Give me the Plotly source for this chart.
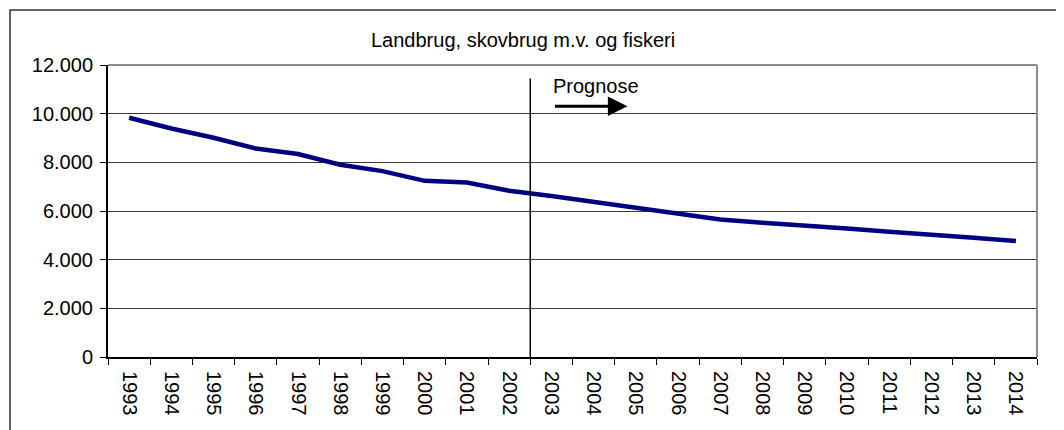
import plotly.graph_objects as go

years = ["1993", "1994", "1995", "1996", "1997", "1998", "1999", "2000", "2001", "2002", "2003",
         "2004", "2005", "2006", "2007", "2008", "2009", "2010", "2011", "2012", "2013", "2014"]
employment = [9830, 9390, 9010, 8565, 8340, 7900, 7640, 7240, 7170, 6830, 6620,
              6380, 6150, 5900, 5655, 5515, 5410, 5285, 5150, 5040, 4900, 4765]
y_tick_values = [0, 2000, 4000, 6000, 8000, 10000, 12000]
y_tick_labels = ["0", "2.000", "4.000", "6.000", "8.000", "10.000", "12.000"]
title_text = "Landbrug, skovbrug m.v. og fiskeri"
forecast_label = "Prognose"
forecast_boundary = 9.5   # between 2002 and 2003 (category index)

FONT = "Liberation Sans, Arial, sans-serif"
FS = 20

fig = go.Figure()
fig.add_trace(go.Scatter(
    x=years, y=employment, mode="lines",
    line=dict(color="#000080", width=4.5),
    showlegend=False, hoverinfo="skip",
))

fig.update_layout(
    width=1056, height=422,
    margin=dict(l=100, r=27, t=57, b=73),
    paper_bgcolor="white", plot_bgcolor="white",
    font=dict(family=FONT, size=FS, color="black"),
    showlegend=False,
)

fig.update_xaxes(
    type="category", range=[-0.5, len(years) - 0.5],
    tickson="boundaries", ticks="outside", ticklen=6, tickcolor="black", tickwidth=1,
    tickangle=90, showgrid=False, showline=True, linecolor="black", linewidth=2,
    tickfont=dict(family=FONT, size=FS), mirror=False, zeroline=False,
    ticklabelstandoff=8,
)
fig.update_yaxes(
    range=[0, 12000], tickvals=y_tick_values, ticktext=y_tick_labels,
    ticks="outside", ticklen=6, tickcolor="black", tickwidth=1,
    showgrid=True, gridcolor="#3a3a3a", gridwidth=1,
    showline=True, linecolor="black", linewidth=2, zeroline=False,
    tickfont=dict(family=FONT, size=FS), ticklabelstandoff=3,
)

shapes = [
    dict(type="line", xref="paper", yref="paper", x0=0, x1=1, y0=1, y1=1,
         line=dict(color="#8c8c8c", width=2)),
    dict(type="line", xref="paper", yref="paper", x0=1, x1=1, y0=0, y1=1,
         line=dict(color="#8c8c8c", width=2)),
    dict(type="line", xref="x", yref="y", x0=forecast_boundary, x1=forecast_boundary,
         y0=0, y1=11450, line=dict(color="black", width=1.5)),
    dict(type="rect", xref="paper", yref="paper",
         x0=(10 - 108) / 929, x1=(1080 - 108) / 929,
         y0=(357 - 450) / 292, y1=(357 - 10) / 292,
         line=dict(color="#333333", width=1.5), fillcolor="rgba(0,0,0,0)", layer="above"),
]
fig.update_layout(shapes=shapes)

fig.add_annotation(
    text=title_text, xref="paper", yref="paper",
    x=(523 - 108) / 929, y=(357 - 40) / 292, xanchor="center", yanchor="middle",
    showarrow=False, font=dict(family=FONT, size=FS, color="black"),
)
fig.add_annotation(
    text=forecast_label, xref="x", yref="y", x=9.98, y=11150,
    xanchor="left", yanchor="middle", showarrow=False,
    font=dict(family=FONT, size=FS, color="black"),
)
fig.add_annotation(
    x=11.8, y=10300, ax=10.05, ay=10300, xref="x", yref="y", axref="x", ayref="y",
    text="", showarrow=True, arrowhead=2, arrowsize=1.3, arrowwidth=3, arrowcolor="black",
)

fig.write_html("out.html")
